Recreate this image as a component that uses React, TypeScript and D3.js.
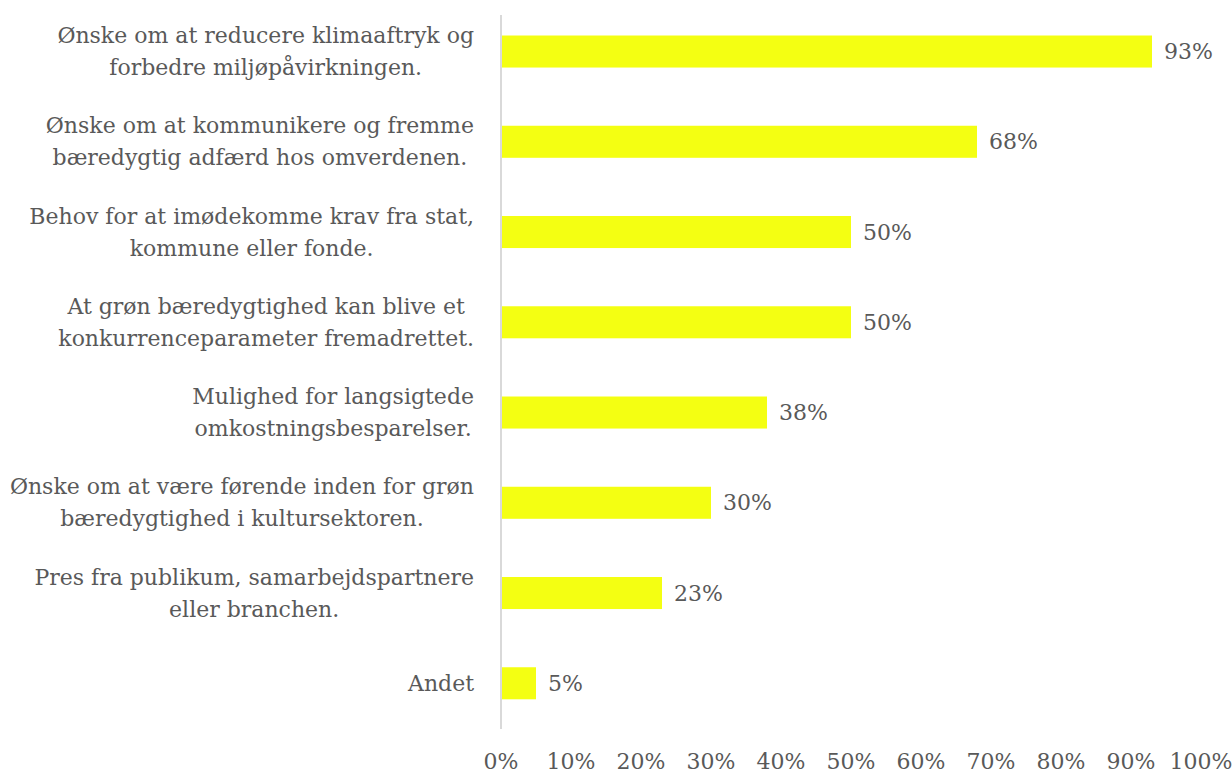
import * as d3 from "d3";

const categories = [
  ["Ønske om at reducere klimaaftryk og", "forbedre miljøpåvirkningen."],
  ["Ønske om at kommunikere og fremme", "bæredygtig adfærd hos omverdenen."],
  ["Behov for at imødekomme krav fra stat,", "kommune eller fonde."],
  ["At grøn bæredygtighed kan blive et", "konkurrenceparameter fremadrettet."],
  ["Mulighed for langsigtede", "omkostningsbesparelser."],
  ["Ønske om at være førende inden for grøn", "bæredygtighed i kultursektoren."],
  ["Pres fra publikum, samarbejdspartnere", "eller branchen."],
  ["Andet"],
];
const values = [0.93, 0.68, 0.5, 0.5, 0.38, 0.3, 0.23, 0.05];
const ticks = [0, 0.1, 0.2, 0.3, 0.4, 0.5, 0.6, 0.7, 0.8, 0.9, 1.0];

const W = 1232;
const H = 773;
const FONT = "DejaVu Serif";
const FS = 22;
const textColor = "#595959";
const barColor = "#f4ff12";

// measure text width to center wrapped lines like the original
const canvas = document.createElement("canvas");
const ctx = canvas.getContext("2d")!;
ctx.font = `${FS}px "${FONT}"`;
const measure = (s: string) => ctx.measureText(s).width;

export default function App() {
  const x = d3.scaleLinear().domain([0, 1]).range([501, 1201]);
  const y = d3
    .scaleBand<number>()
    .domain(d3.range(categories.length))
    .range([6.4, 728.4])
    .paddingInner(0.645)
    .paddingOuter(0.3225);

  const labelRight = 474;
  const lineH = 32;

  return (
    <svg
      width={W}
      height={H}
      style={{ position: "absolute", left: 0, top: 0, background: "#fff" }}
      fontFamily={FONT}
      fontSize={FS}
    >
      {/* bars */}
      {values.map((v, i) => (
        <rect
          key={"b" + i}
          x={x(0) + 1}
          y={y(i)}
          width={x(v) - x(0) - 1}
          height={y.bandwidth()}
          fill={barColor}
        />
      ))}

      {/* vertical axis line */}
      <line x1={x(0)} x2={x(0)} y1={15} y2={729} stroke="#d9d9d9" strokeWidth={2} />

      {/* value labels */}
      {values.map((v, i) => (
        <text
          key={"v" + i}
          x={x(v) + 12}
          y={(y(i) ?? 0) + y.bandwidth() / 2}
          dy="0.35em"
          fill={textColor}
        >
          {Math.round(v * 100)}%
        </text>
      ))}

      {/* category labels */}
      {categories.map((lines, i) => {
        const maxW = Math.max(...lines.map(measure));
        const cx = labelRight - maxW / 2;
        const cy = (y(i) ?? 0) + y.bandwidth() / 2;
        const start = cy - ((lines.length - 1) * lineH) / 2;
        return (
          <text key={"c" + i} textAnchor="middle" fill={textColor}>
            {lines.map((l, j) => (
              <tspan key={j} x={cx} y={start + j * lineH} dy="0.35em">
                {l}
              </tspan>
            ))}
          </text>
        );
      })}

      {/* x tick labels */}
      {ticks.map((t) => (
        <text
          key={"t" + t}
          x={x(t)}
          y={761}
          dy="0.35em"
          textAnchor="middle"
          fill={textColor}
        >
          {Math.round(t * 100)}%
        </text>
      ))}
    </svg>
  );
}
